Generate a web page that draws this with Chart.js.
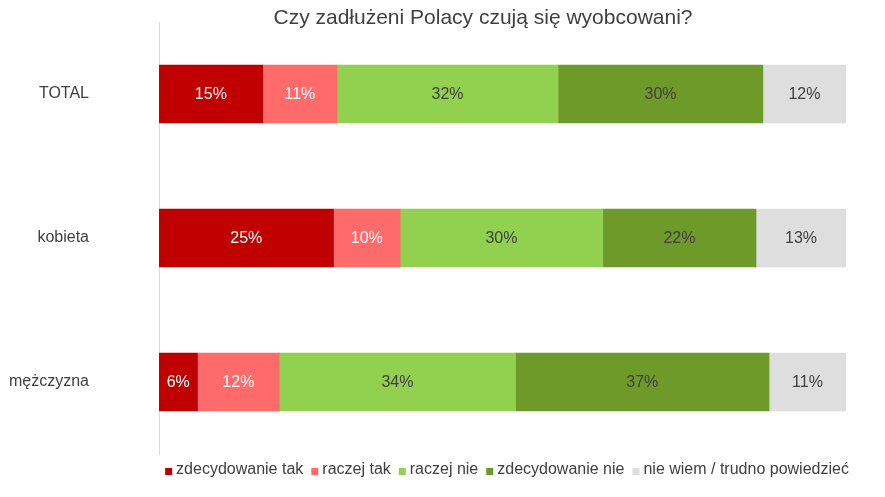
<!DOCTYPE html>
<html>
<head>
<meta charset="utf-8">
<script src="https://cdn.jsdelivr.net/npm/chart.js@4.4.1/dist/chart.umd.min.js"></script>
<style>
html,body{margin:0;padding:0;background:#fff;}
#wrap{width:885px;height:497px;position:relative;}
</style>
</head>
<body>
<div id="wrap"><canvas id="c" width="885" height="497"></canvas></div>
<script>
const titleText = 'Czy zadłużeni Polacy czują się wyobcowani?';
const categories = ['TOTAL', 'kobieta', 'mężczyzna'];
const seriesNames = ['zdecydowanie tak', 'raczej tak', 'raczej nie', 'zdecydowanie nie', 'nie wiem / trudno powiedzieć'];
const zdecydowanieTak = [15.1, 25.4, 5.6];
const raczejTak = [10.8, 9.7, 11.9];
const raczejNie = [32.2, 29.5, 34.4];
const zdecydowanieNie = [29.8, 22.3, 36.9];
const nieWiem = [12.1, 13.1, 11.2];

const colors = ['#C00000', '#FF6B6B', '#92D050', '#6E9A2A', '#DEDEDE'];
const labelColors = ['#FFFFFF', '#FFFFFF', '#404040', '#404040', '#404040'];
const seriesValues = [zdecydowanieTak, raczejTak, raczejNie, zdecydowanieNie, nieWiem];

const FONT = '"Liberation Sans", Arial, sans-serif';
const TEXT = '#404040';

const dataLabelPlugin = {
  id: 'dataLabels',
  afterDatasetsDraw(chart) {
    const ctx = chart.ctx;
    ctx.save();
    ctx.font = '16px ' + FONT;
    ctx.textAlign = 'center';
    ctx.textBaseline = 'middle';
    chart.data.datasets.forEach((ds, di) => {
      const meta = chart.getDatasetMeta(di);
      meta.data.forEach((bar, i) => {
        ctx.fillStyle = labelColors[di];
        ctx.fillText(Math.round(ds.data[i]) + '%', (bar.x + bar.base) / 2, bar.y + 1);
      });
    });
    ctx.restore();
  }
};

const titleLegendPlugin = {
  id: 'titleLegend',
  afterDraw(chart) {
    const ctx = chart.ctx;
    ctx.save();
    // title
    ctx.font = '21px ' + FONT;
    ctx.fillStyle = TEXT;
    ctx.textAlign = 'center';
    ctx.textBaseline = 'middle';
    ctx.fillText(titleText, 483, 18);
    // legend
    ctx.font = '16px ' + FONT;
    ctx.textAlign = 'left';
    const box = 7, gapBox = 4, gapItem = 8;
    const widths = chart.data.datasets.map(ds => box + gapBox + ctx.measureText(ds.label).width);
    const total = widths.reduce((a, b) => a + b, 0) + gapItem * (widths.length - 1);
    let x = 507 - total / 2;
    const y = 470;
    chart.data.datasets.forEach((ds, i) => {
      ctx.fillStyle = ds.backgroundColor;
      ctx.fillRect(x, y - 2, box, box);
      ctx.fillStyle = TEXT;
      ctx.fillText(ds.label, x + box + gapBox, y);
      x += widths[i] + gapItem;
    });
    ctx.restore();
  }
};

new Chart(document.getElementById('c'), {
  type: 'bar',
  data: {
    labels: categories,
    datasets: seriesNames.map((n, i) => ({
      label: n,
      data: seriesValues[i],
      backgroundColor: colors[i],
      borderWidth: 0,
      barThickness: 58
    }))
  },
  options: {
    indexAxis: 'y',
    responsive: false,
    animation: false,
    layout: { padding: { left: 0, right: 39, top: 22, bottom: 43 } },
    scales: {
      x: { stacked: true, min: 0, max: 100, display: false },
      y: {
        stacked: true,
        grid: { display: false, drawTicks: false },
        border: { display: true, color: '#D9D9D9', width: 1 },
        ticks: { color: TEXT, font: { family: FONT, size: 16 }, padding: 70 },
        afterFit(scale) { scale.width = 159; scale.paddingTop = 0; scale.paddingBottom = 0; }
      }
    },
    plugins: {
      title: { display: false },
      legend: { display: false },
      tooltip: { enabled: false }
    }
  },
  plugins: [dataLabelPlugin, titleLegendPlugin]
});
</script>
</body>
</html>
